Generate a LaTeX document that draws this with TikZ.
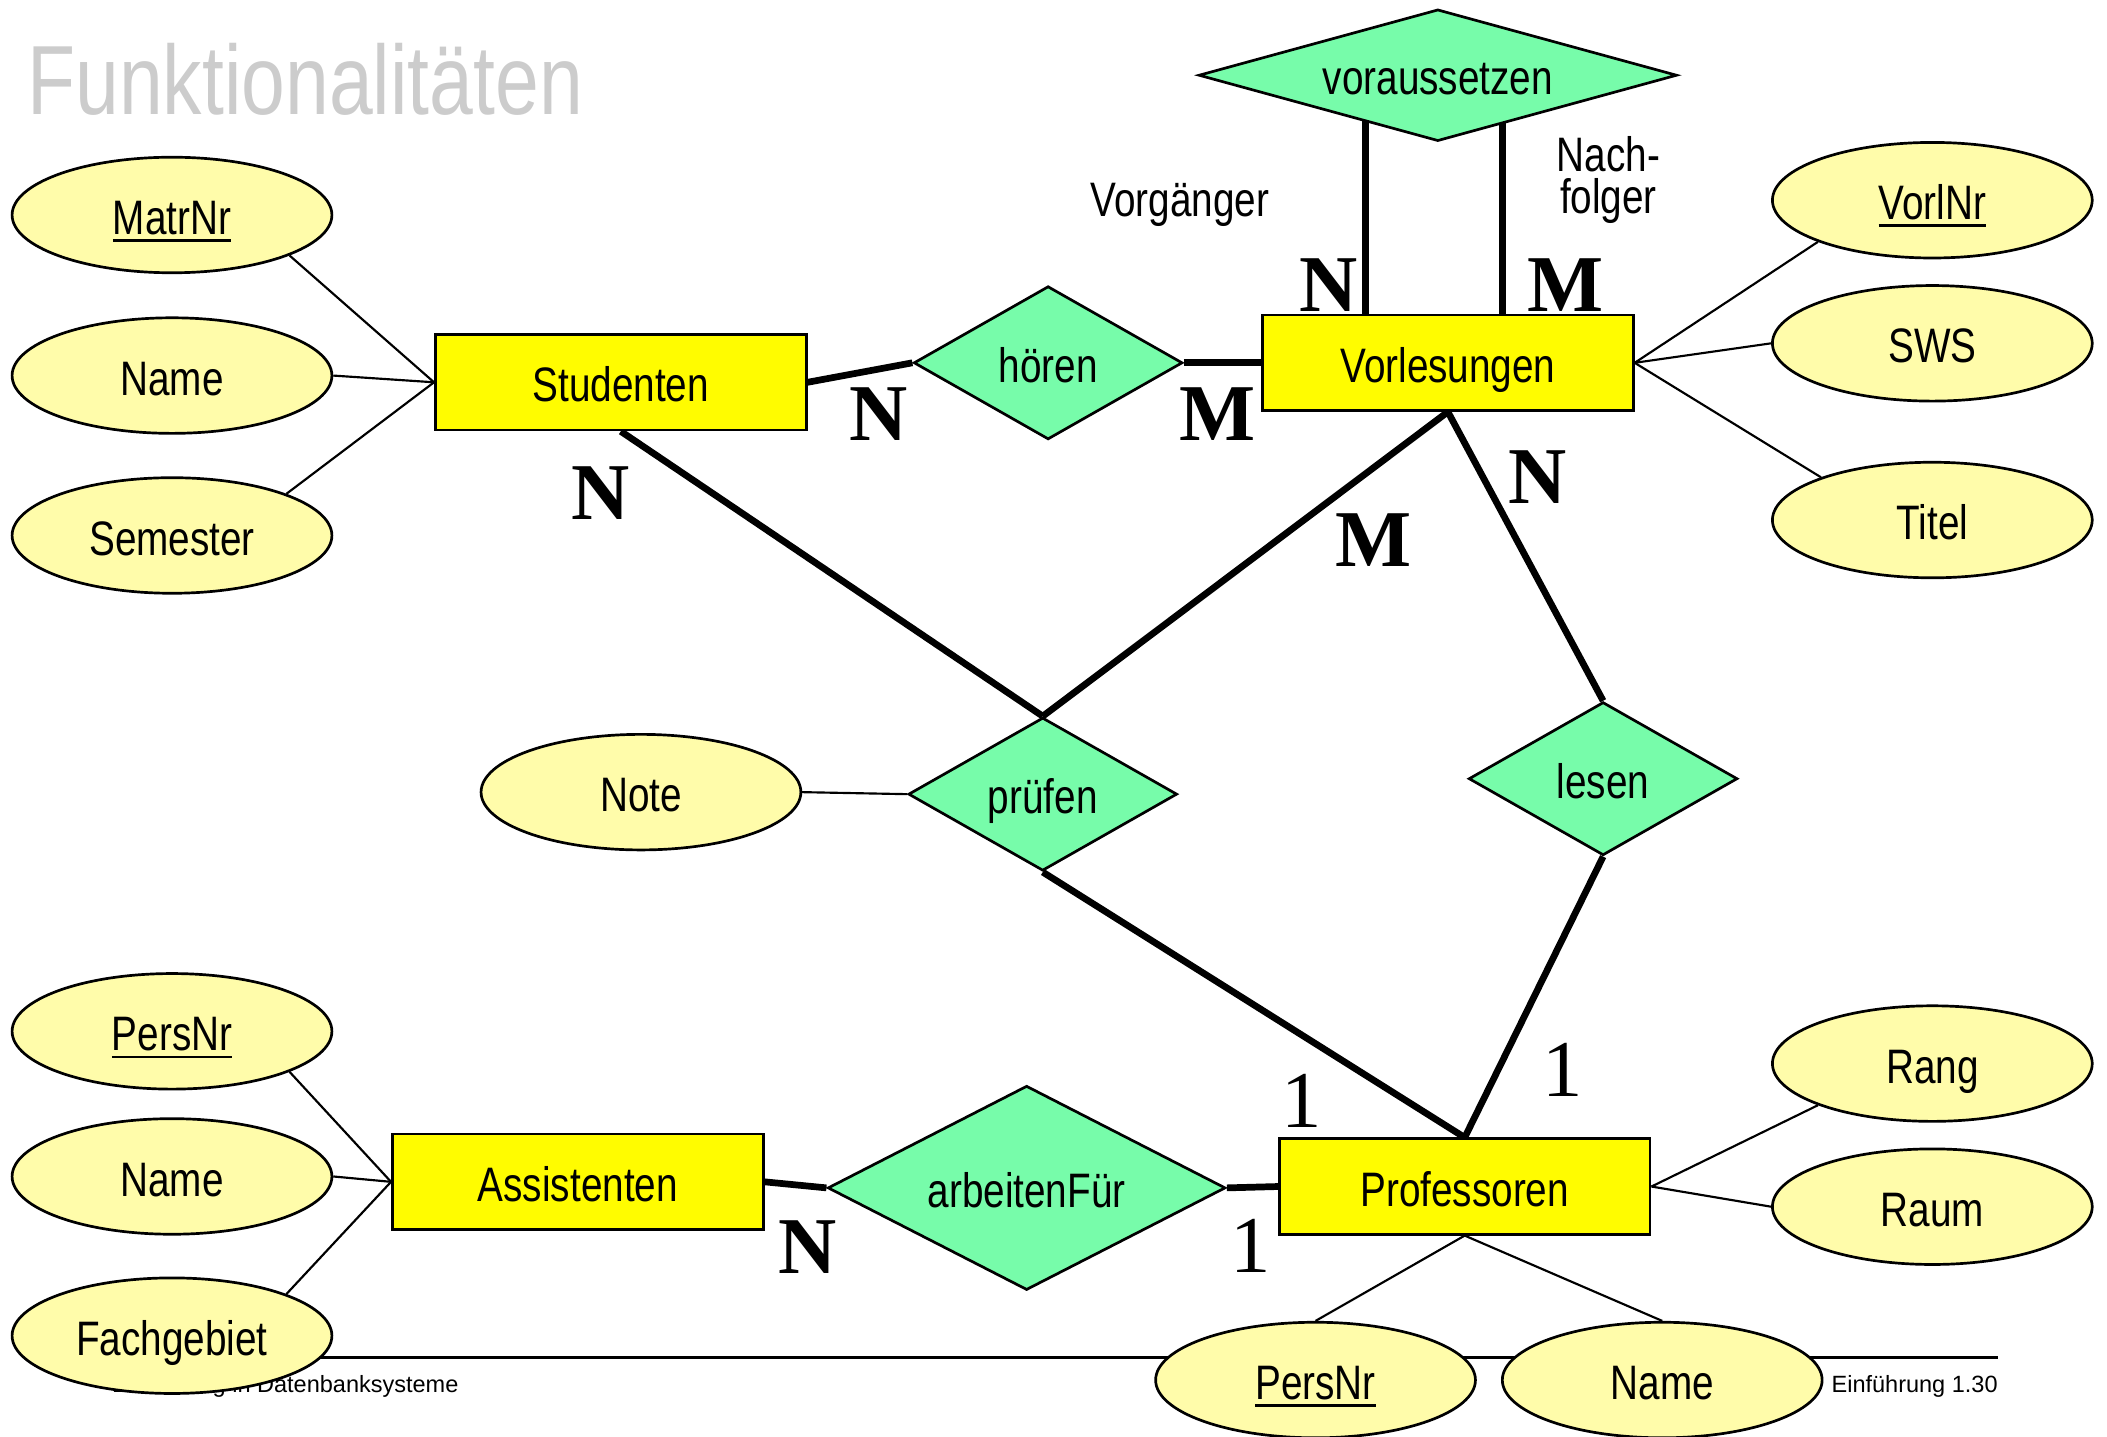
\documentclass[tikz,border=0pt]{standalone}
\usepackage{fontspec}
\setmainfont{Liberation Sans}[FakeStretch=0.8]
\newfontfamily\footfont{Liberation Sans}
\newfontfamily\cardfont{Liberation Serif}
\usetikzlibrary{shapes.geometric}
\pgfdeclarelayer{background}
\pgfsetlayers{background,main}

\definecolor{entityfill}{RGB}{255,252,0}
\definecolor{relfill}{RGB}{119,252,170}
\definecolor{attrfill}{RGB}{255,252,170}
\definecolor{titlegray}{RGB}{204,204,204}

% underlined key attribute
\newcommand\keyattr[1]{\setbox0\hbox{#1}\rlap{\rule[-2.8pt]{\wd0}{1.1pt}}\box0}

\tikzset{
  lbl/.style={font=\fontsize{18pt}{21pt}\selectfont, text height=14.6pt, text depth=0pt, inner sep=0pt},
  entity/.style={lbl, rectangle, draw, line width=1pt, fill=entityfill,
                 minimum width=138pt, minimum height=35.5pt},
  relship/.style={lbl, diamond, draw, line width=1pt, fill=relfill, aspect=2,
                  minimum width=100pt, minimum height=57pt},
  attrib/.style={lbl, ellipse, draw, line width=1pt, fill=attrfill,
                 minimum width=119pt, minimum height=43pt},
  role/.style={font=\fontsize{18pt}{15.5pt}\selectfont, inner sep=0pt, align=center},
  card/.style={font=\cardfont\bfseries\fontsize{30pt}{30pt}\selectfont, inner sep=0pt},
  one/.style={font=\cardfont\fontsize{30pt}{30pt}\selectfont, inner sep=0pt},
  thick link/.style={line width=2.5pt},
  thin link/.style={line width=0.8pt},
  foot/.style={font=\footfont\fontsize{8.75pt}{10pt}\selectfont, inner sep=0pt},
}

\begin{document}
\begin{tikzpicture}[x=0.5pt,y=-0.5pt]
\useasboundingbox (0,0) rectangle (1568,1069);

% title
\node[anchor=base west, inner sep=0pt, text=titlegray,
      font=\fontsize{36.6pt}{40pt}\selectfont] (title) at (20,85) {Funktionalitäten};

% entities
\node[entity] (stud) at (462,284.5) {Studenten};
\node[entity] (vl)   at (1077.5,270) {Vorlesungen};
\node[entity] (asst) at (430,879.5) {Assistenten};
\node[entity] (prof) at (1090,883) {Professoren};

% relationships
\node[relship] (hoeren) at (780,270) {hören};
\node[relship, aspect=3.6, minimum width=178pt, minimum height=49pt] (vs) at (1070,56) {voraussetzen};
\node[relship] (pruefen) at (776,591) {prüfen};
\node[relship] (lesen) at (1193,579.5) {lesen};
\node[relship, minimum width=148pt, minimum height=76pt] (arb) at (764,884) {arbeitenFür};

% attributes
\node[attrib] (matrnr)   at (128,160)    {\keyattr{MatrNr}};
\node[attrib] (sname)    at (128,279.5)  {Name};
\node[attrib] (semester) at (128,398.5)  {Semester};
\node[attrib] (vorlnr)   at (1438,149)   {\keyattr{VorlNr}};
\node[attrib] (sws)      at (1438,255.5) {SWS};
\node[attrib] (titel)    at (1438,387)   {Titel};
\node[attrib] (note)     at (477,589.5)  {Note};
\node[attrib] (apers)    at (128,767.5)  {\keyattr{PersNr}};
\node[attrib] (aname)    at (128,875.5)  {Name};
\node[attrib] (fach)     at (128,994)    {Fachgebiet};
\node[attrib] (rang)     at (1438,791.5) {Rang};
\node[attrib] (raum)     at (1438,898)   {Raum};
\node[attrib] (ppers)    at (979,1027)   {\keyattr{PersNr}};
\node[attrib] (pname)    at (1237,1027)  {Name};

% roles of the recursive relationship
\node[lbl, anchor=base] (pred) at (878,161) {Vorgänger};
\node[role, anchor=north] (succ) at (1197,101.5) {Nach-\\folger};

% cardinalities
\node[card] (c1) at (654,308)  {N};
\node[card] (c2) at (906,308)  {M};
\node[card] (c3) at (447,367)  {N};
\node[card] (c4) at (989,212)  {N};
\node[card] (c5) at (1165,212) {M};
\node[card] (c6) at (1022,402) {M};
\node[card] (c7) at (1144,355) {N};
\node[one]  (c8) at (969,819)  {1};
\node[one]  (c9) at (1163,796) {1};
\node[card] (c10) at (601,928) {N};
\node[one]  (c11) at (931,927) {1};

\coordinate (predx) at (1016,0);
\coordinate (succx) at (1118,0);

\begin{pgfonlayer}{background}
  % footer
  \draw[line width=1pt] (84,1010) -- (1487,1010);
  \node[foot, anchor=base west] (footl) at (83,1036) {Einführung in Datenbanksysteme};
  \node[foot, anchor=base east] (footr) at (1487,1036) {Einführung 1.30};

  % attribute links
  \draw[thin link] (matrnr.-19) -- (stud.west);
  \draw[thin link] (sname.east) -- (stud.west);
  \draw[thin link] (semester.20) -- (stud.west);
  \draw[thin link] (vorlnr.-160) -- (vl.east);
  \draw[thin link] (sws.west) -- (vl.east);
  \draw[thin link] (titel.159) -- (vl.east);
  \draw[thin link] (note.east) -- (pruefen.west);
  \draw[thin link] (apers.-19) -- (asst.west);
  \draw[thin link] (aname.east) -- (asst.west);
  \draw[thin link] (fach.20) -- (asst.west);
  \draw[thin link] (rang.-160) -- (prof.east);
  \draw[thin link] (raum.west) -- (prof.east);
  \draw[thin link] (ppers.north) -- (prof.south);
  \draw[thin link] (pname.north) -- (prof.south);

  % relationship links
  \draw[thick link] (stud.east) -- (hoeren.west);
  \draw[thick link] (hoeren.east) -- (vl.west);
  \draw[thick link] (vs.center -| predx) -- (vl.north -| predx);
  \draw[thick link] (vs.center -| succx) -- (vl.north -| succx);
  \draw[thick link] (stud.south) -- (pruefen.north);
  \draw[thick link] (vl.south) -- (pruefen.north);
  \draw[thick link] (vl.south) -- (lesen.north);
  \draw[thick link] (pruefen.south) -- (prof.north);
  \draw[thick link] (lesen.south) -- (prof.north);
  \draw[thick link] (asst.east) -- (arb.west);
  \draw[thick link] (arb.east) -- (prof.west);
\end{pgfonlayer}
\end{tikzpicture}
\end{document}
